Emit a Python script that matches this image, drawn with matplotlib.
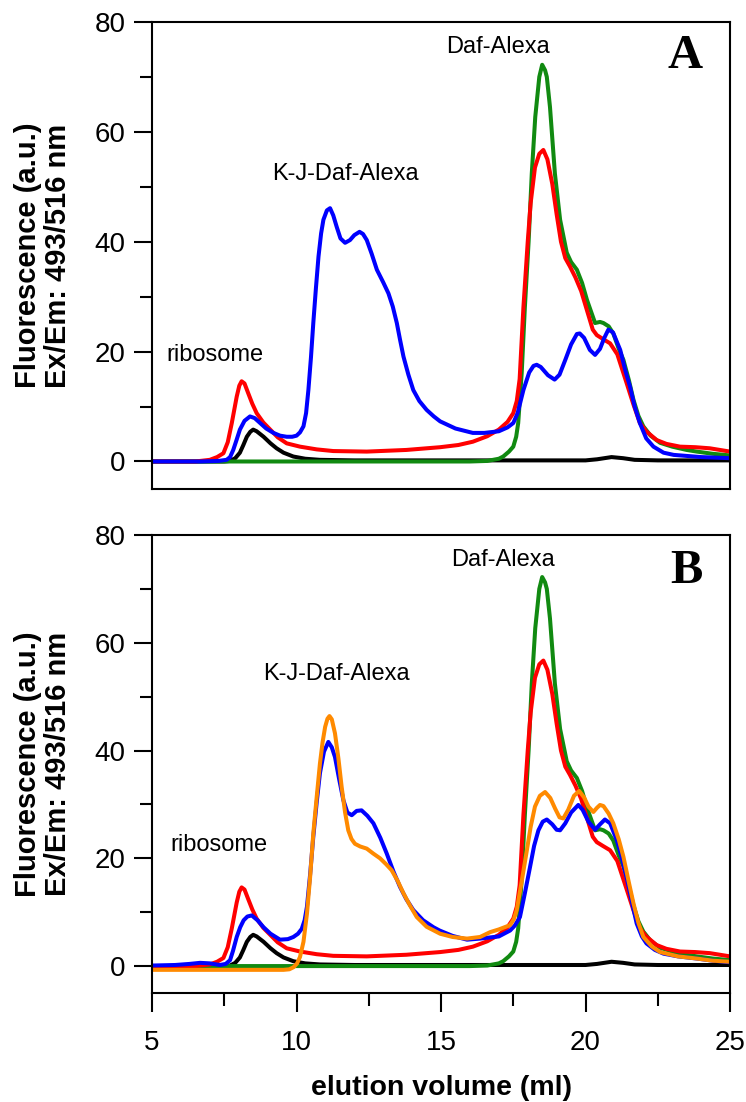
import matplotlib
matplotlib.use("Agg")
import matplotlib.pyplot as plt
from matplotlib.ticker import MultipleLocator

plt.rcParams['font.family'] = ['Liberation Sans', 'DejaVu Sans']

# ---- data (elution volume in ml, fluorescence a.u.) ----
vol_red = [5.0, 6.5, 7.0, 7.25, 7.47, 7.62, 7.76, 7.93, 8.02, 8.1, 8.2, 8.33, 8.47, 8.62, 8.85,
           9.09, 9.35, 9.66, 10.12, 10.7, 11.27, 12.43, 13.8, 14.97, 15.6, 16.1, 16.6, 17.0, 17.3,
           17.5, 17.62, 17.72, 17.85, 18.0, 18.1, 18.25, 18.4, 18.54, 18.68, 18.85, 19.0, 19.15,
           19.3, 19.46, 19.65, 19.85, 20.05, 20.25, 20.39, 20.6, 20.85, 21.1, 21.42, 21.65, 21.88,
           22.1, 22.46, 22.8, 23.27, 23.8, 24.3, 25.0]
red = [0.0, 0.0, 0.3, 0.8, 1.5, 3.5, 7.0, 11.8, 13.8, 14.6, 14.2, 12.4, 10.5, 8.8, 7.1,
       5.8, 4.4, 3.3, 2.7, 2.2, 1.9, 1.8, 2.1, 2.6, 3.0, 3.6, 4.6, 5.8, 7.2,
       8.8, 11.0, 15.0, 28.0, 40.0, 47.0, 53.5, 56.0, 56.7, 55.0, 50.5, 45.0, 40.0,
       37.0, 35.5, 33.5, 31.0, 27.5, 24.0, 23.0, 22.3, 21.5, 19.5, 14.3, 10.5, 7.0,
       5.5, 3.9, 3.2, 2.7, 2.6, 2.4, 1.8]

vol_green = [5.0, 16.0, 16.6, 17.0, 17.15, 17.35, 17.5, 17.6, 17.67, 17.79, 17.9, 18.03, 18.14,
             18.26, 18.4, 18.5, 18.6, 18.66, 18.77, 18.94, 19.12, 19.35, 19.5, 19.7, 19.88, 20.05,
             20.33, 20.5, 20.62, 20.8, 20.96, 21.15, 21.31, 21.5, 21.66, 21.83, 22.0, 22.25,
             22.58, 23.0, 23.5, 23.85, 24.4, 25.0]
green = [0.0, 0.0, 0.1, 0.5, 0.9, 1.8, 2.7, 4.5, 7.0, 16.0, 28.0, 40.0, 52.4,
         62.7, 70.0, 72.2, 71.2, 70.0, 64.5, 52.4, 44.0, 38.0, 36.3, 34.9, 32.5, 29.4,
         25.2, 25.4, 25.2, 24.6, 23.3, 20.5, 18.5, 14.8, 11.2, 8.3, 6.4, 4.7,
         3.4, 2.7, 2.1, 1.8, 1.4, 1.1]

vol_black = [5.0, 7.5, 7.7, 7.88, 8.04, 8.16, 8.28, 8.4, 8.5, 8.62, 8.86, 9.1, 9.31, 9.55, 9.89,
             10.3, 10.81, 12.0, 15.0, 18.0, 20.0, 20.4, 20.9, 21.3, 21.7, 22.5, 25.0]
black = [0.0, 0.0, 0.1, 0.6, 1.6, 3.0, 4.5, 5.4, 5.8, 5.5, 4.5, 3.3, 2.4, 1.6, 0.9,
         0.5, 0.3, 0.2, 0.2, 0.2, 0.2, 0.4, 0.8, 0.6, 0.3, 0.2, 0.2]

vol_blue_a = [5.0, 6.66, 7.3, 7.58, 7.7, 7.81, 7.93, 8.04, 8.2, 8.39, 8.55, 8.74, 8.95, 9.2, 9.43,
              9.66, 9.85, 10.0, 10.12, 10.24, 10.33, 10.41, 10.5, 10.58, 10.67, 10.76, 10.85,
              10.93, 11.05, 11.16, 11.27, 11.39, 11.52, 11.68, 11.85, 12.0, 12.18, 12.3, 12.43,
              12.6, 12.78, 13.0, 13.18, 13.33, 13.47, 13.58, 13.7, 13.87, 14.04, 14.25, 14.5,
              14.75, 14.97, 15.5, 16.1, 16.5, 17.0, 17.3, 17.5, 17.65, 17.85, 18.05, 18.2, 18.31,
              18.45, 18.7, 18.93, 19.1, 19.3, 19.5, 19.7, 19.8, 19.95, 20.15, 20.33, 20.5, 20.65,
              20.79, 20.95, 21.2, 21.38, 21.54, 21.7, 21.88, 22.1, 22.35, 22.7, 23.05, 24.0, 25.0]
blue_a = [0.0, 0.0, 0.1, 0.3, 0.8, 2.1, 4.0, 5.8, 7.4, 8.2, 7.9, 7.0, 6.0, 5.2, 4.7,
          4.5, 4.5, 4.7, 5.3, 6.4, 8.8, 13.0, 19.0, 25.2, 31.5, 37.3, 41.5,
          44.0, 45.7, 46.1, 44.8, 42.7, 40.6, 39.8, 40.3, 41.2, 41.8, 41.4, 40.3,
          37.8, 34.9, 32.6, 30.6, 28.2, 25.2, 22.2, 19.1, 15.8, 13.0, 11.0, 9.4,
          8.2, 7.3, 6.0, 5.2, 5.2, 5.5, 6.2, 7.0, 8.8, 13.0, 16.2, 17.4, 17.6,
          17.2, 15.7, 14.9, 15.8, 18.5, 21.3, 23.2, 23.3, 22.5, 20.3, 19.4, 20.5, 22.5,
          24.0, 23.5, 20.3, 16.5, 13.6, 10.0, 7.0, 4.2, 2.7, 1.6, 1.2, 0.8, 0.6]

vol_blue_b = [5.0, 5.8, 6.3, 6.66, 7.0, 7.35, 7.55, 7.7, 7.8, 7.93, 8.05, 8.17, 8.3, 8.45, 8.65,
              8.86, 9.1, 9.43, 9.7, 9.89, 10.05, 10.18, 10.28, 10.36, 10.47, 10.58, 10.7, 10.81,
              10.95, 11.1, 11.22, 11.33, 11.47, 11.62, 11.76, 11.91, 12.08, 12.25, 12.45, 12.66,
              12.9, 13.12, 13.35, 13.58, 13.8, 14.04, 14.38, 14.74, 14.95, 15.4, 15.9, 16.35,
              17.0, 17.39, 17.55, 17.73, 17.9, 18.08, 18.22, 18.37, 18.52, 18.66, 18.85, 19.0,
              19.12, 19.3, 19.5, 19.75, 19.9, 20.1, 20.33, 20.5, 20.67, 20.85, 21.08, 21.25,
              21.42, 21.6, 21.77, 21.95, 22.11, 22.4, 22.7, 23.2, 23.85, 24.4, 25.0]
blue_b = [0.1, 0.2, 0.4, 0.6, 0.5, 0.2, 0.4, 1.1, 2.8, 5.4, 7.2, 8.5, 9.2, 9.4, 8.5,
          7.2, 6.0, 4.9, 5.0, 5.4, 6.0, 6.9, 8.5, 11.0, 17.0, 24.0, 30.5, 35.8,
          39.8, 41.6, 40.6, 38.8, 34.8, 30.8, 28.5, 28.0, 28.8, 28.9, 27.9, 26.5,
          23.8, 20.9, 17.6, 14.7, 12.4, 10.4, 8.5, 7.2, 6.6, 5.6, 4.9, 5.1,
          5.5, 6.6, 7.5, 9.1, 13.5, 18.4, 22.3, 25.2, 26.8, 27.2, 26.3, 25.3,
          25.2, 26.5, 28.5, 29.9, 29.0, 26.8, 25.3, 26.3, 27.2, 26.5, 23.4, 20.2,
          16.5, 12.0, 7.9, 5.5, 4.2, 3.0, 2.3, 1.8, 1.4, 1.0, 0.7]

vol_orange = [5.0, 9.55, 9.75, 9.9, 10.02, 10.12, 10.24, 10.36, 10.47, 10.58, 10.7, 10.81, 10.9,
              10.99, 11.07, 11.14, 11.22, 11.33, 11.45, 11.56, 11.68, 11.79, 11.9, 12.02, 12.2,
              12.43, 12.65, 12.89, 13.1, 13.29, 13.5, 13.7, 13.93, 14.16, 14.5, 14.97, 15.4, 15.9,
              16.35, 16.7, 17.0, 17.39, 17.52, 17.62, 17.8, 17.97, 18.1, 18.25, 18.42, 18.6,
              18.78, 18.95, 19.1, 19.23, 19.4, 19.6, 19.78, 19.95, 20.1, 20.27, 20.4, 20.5,
              20.62, 20.8, 20.96, 21.15, 21.31, 21.5, 21.66, 21.83, 22.0, 22.3, 22.58, 23.2,
              23.85, 24.4, 25.0]
orange = [-0.7, -0.7, -0.6, -0.2, 0.5, 1.7, 4.5, 9.7, 16.5, 24.6, 31.5, 37.6, 41.5,
          44.4, 45.9, 46.4, 45.8, 43.2, 38.5, 33.3, 28.5, 25.2, 23.6, 22.7, 22.2,
          21.8, 20.9, 20.0, 18.9, 17.8, 15.8, 13.5, 11.2, 9.1, 7.3, 6.0, 5.4, 5.1,
          5.4, 6.3, 6.8, 7.6, 8.7, 10.4, 16.0, 21.5, 25.8, 29.6, 31.6, 32.3,
          31.2, 29.2, 27.6, 27.4, 29.0, 31.6, 32.5, 31.3, 29.6, 28.6, 29.4, 29.9,
          29.7, 28.3, 26.5, 23.5, 20.3, 15.5, 11.6, 8.0, 5.4, 3.6, 2.6, 1.8,
          1.4, 1.0, 0.8]

C_RED, C_BLUE, C_GREEN, C_ORANGE = '#ff0000', '#0000ff', '#118a11', '#ff8a00'
LW = 2.9

fig = plt.figure(figsize=(7.46, 11.02), dpi=100)
ax_a = fig.add_axes([0.2038, 0.5563, 0.7748, 0.4238])
ax_b = fig.add_axes([0.2038, 0.0989, 0.7748, 0.4156])


def style_axes(ax, show_x):
    ax.set_xlim(5, 25)
    ax.set_ylim(-5, 80)
    ax.yaxis.set_major_locator(MultipleLocator(20))
    ax.yaxis.set_minor_locator(MultipleLocator(10))
    ax.xaxis.set_major_locator(MultipleLocator(5))
    ax.xaxis.set_minor_locator(MultipleLocator(2.5))
    for sp in ax.spines.values():
        sp.set_linewidth(1.5)
    ax.tick_params(axis='y', which='major', direction='out', length=13, width=1.5,
                   labelsize=20, pad=6)
    ax.tick_params(axis='y', which='minor', direction='out', length=9, width=1.5)
    if show_x:
        ax.tick_params(axis='x', which='major', direction='out', length=13.5, width=1.5,
                       labelsize=20, pad=13)
        ax.tick_params(axis='x', which='minor', direction='out', length=9, width=1.5)
    else:
        ax.tick_params(axis='x', which='both', bottom=False, labelbottom=False)
    ax.set_ylabel("Fluorescence (a.u.)\nEx/Em: 493/516 nm", fontsize=21,
                  fontweight='bold', linespacing=1.1)
    ax.yaxis.set_label_coords(-0.138, 0.5)


def draw(ax, xs, ys, color):
    ax.plot(xs, ys, color=color, lw=LW, solid_joinstyle='round', solid_capstyle='round')


# panel A
draw(ax_a, vol_black, black, 'black')
draw(ax_a, vol_green, green, C_GREEN)
draw(ax_a, vol_red, red, C_RED)
draw(ax_a, vol_blue_a, blue_a, C_BLUE)
style_axes(ax_a, False)
ax_a.text(5.48, 18.2, "ribosome", fontsize=17)
ax_a.text(9.17, 51.3, "K-J-Daf-Alexa", fontsize=17)
ax_a.text(15.18, 74.4, "Daf-Alexa", fontsize=17)
ax_a.text(23.46, 71.6, "A", fontsize=35, fontweight='bold', ha='center',
          family=['Liberation Serif', 'DejaVu Serif'])

# panel B
draw(ax_b, vol_black, black, 'black')
draw(ax_b, vol_green, green, C_GREEN)
draw(ax_b, vol_red, red, C_RED)
draw(ax_b, vol_blue_b, blue_b, C_BLUE)
draw(ax_b, vol_orange, orange, C_ORANGE)
style_axes(ax_b, True)
ax_b.set_xlabel("elution volume (ml)", fontsize=20.5, fontweight='bold', labelpad=14)
ax_b.text(5.62, 21.4, "ribosome", fontsize=17)
ax_b.text(8.85, 53.1, "K-J-Daf-Alexa", fontsize=17)
ax_b.text(15.36, 74.2, "Daf-Alexa", fontsize=17)
ax_b.text(23.5, 71.1, "B", fontsize=35, fontweight='bold', ha='center',
          family=['Liberation Serif', 'DejaVu Serif'])

fig.savefig("out.png", dpi=100)
